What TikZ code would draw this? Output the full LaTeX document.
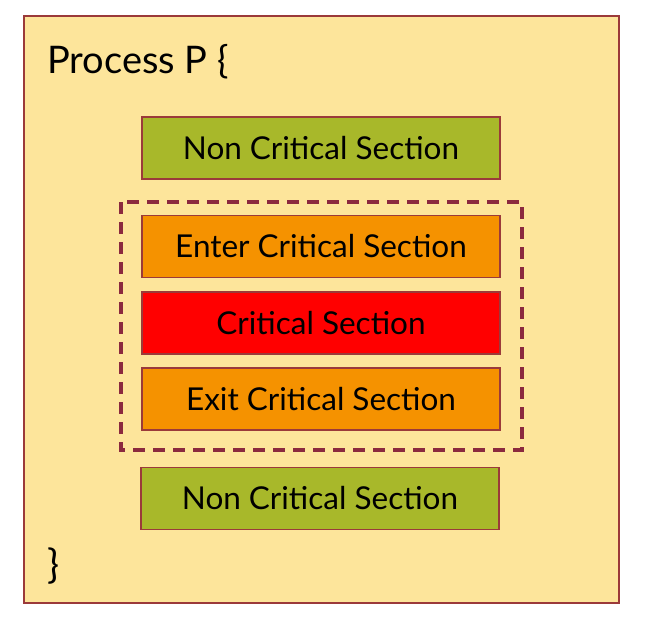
\documentclass[tikz,border=0pt]{standalone}
\usepackage{fontspec}
\setmainfont{Lato}
\usepackage{tikz}
\usetikzlibrary{positioning}

\definecolor{pagebg}{HTML}{FDE59B}
\definecolor{edgered}{HTML}{9B3A3A}
\definecolor{dashred}{HTML}{8B2A3E}
\definecolor{ncsgreen}{HTML}{A8B82A}
\definecolor{csorange}{HTML}{F59200}
\definecolor{csred}{HTML}{FF0000}

\tikzset{
    section/.style={draw=edgered, line width=1.2pt, minimum width=358pt,
        minimum height=62pt, inner sep=0pt, font=\fontsize{31.5}{38}\selectfont},
    ncs/.style={section, fill=ncsgreen},
    entryexit/.style={section, fill=csorange},
    critical/.style={section, fill=csred}}

\begin{document}
\begin{tikzpicture}[x=1pt, y=-1pt]

            \useasboundingbox (0,0) rectangle (646,622);
            \draw[draw=edgered, line width=1.2pt, fill=pagebg] (24,16) rectangle (619,603);

            \node[anchor=base west, inner sep=0pt, font=\fontsize{38}{46}\selectfont] (head) at (47,73) {Process P \{};
            \node[anchor=base west, inner sep=0pt, font=\fontsize{40}{48}\selectfont] (tail) at (47,578) {\}};

            \draw[dashred, line width=3.2pt, dash pattern=on 12pt off 8pt] (121,202) rectangle (522,450);

            \node[ncs] (ncsTop) at (321,148) {Non Critical Section};
            \node[entryexit] (enter) at (321,246.5) {Enter Critical Section};
            \node[critical] (crit) at (321,323) {Critical Section};
            \node[entryexit] (exit) at (321,399) {Exit Critical Section};
            \node[ncs] (ncsBottom) at (320,498.5) {Non Critical Section};

        \end{tikzpicture}
\end{document}
